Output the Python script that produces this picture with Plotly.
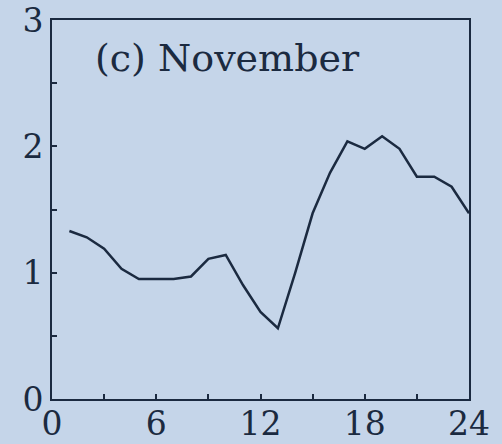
import plotly.graph_objects as go

hours = list(range(1, 25))
values = [1.33, 1.28, 1.19, 1.03, 0.95, 0.95, 0.95, 0.97, 1.11, 1.14, 0.90, 0.69,
          0.56, 1.00, 1.47, 1.79, 2.04, 1.98, 2.08, 1.98, 1.76, 1.76, 1.68, 1.47]
x_ticks = [0, 6, 12, 18, 24]
y_ticks = [0, 1, 2, 3]
panel_label = "(c) November"

bg = "#c5d5e9"
ink = "#1b2a40"
font = "DejaVu Serif"

fig = go.Figure()
fig.add_trace(go.Scatter(x=hours, y=values, mode="lines",
                         line=dict(color=ink, width=2.5), showlegend=False))

fig.add_annotation(x=2.35, y=2.70, xref="x", yref="y", text=panel_label,
                   showarrow=False, xanchor="left", yanchor="middle",
                   font=dict(family=font, size=38, color=ink))

axis_common = dict(showgrid=False, zeroline=False, showline=True, linecolor=ink,
                   linewidth=2, mirror=True, ticks="inside", ticklen=5, tickwidth=1.5,
                   tickcolor=ink, automargin=False,
                   tickfont=dict(family=font, size=33, color=ink))

fig.update_xaxes(range=[0, 24], tickvals=x_ticks, ticktext=[str(v) for v in x_ticks],
                 ticklabelstandoff=-6,
                 minor=dict(ticks="inside", dtick=3, tick0=0, ticklen=5, tickcolor=ink, tickwidth=1.5),
                 **axis_common)
fig.update_yaxes(range=[0, 3], tickvals=y_ticks, ticktext=[str(v) for v in y_ticks],
                 minor=dict(ticks="inside", dtick=0.5, tick0=0, ticklen=5, tickcolor=ink, tickwidth=1.5),
                 **axis_common)

fig.update_layout(width=502, height=444, margin=dict(l=52, r=33, t=20, b=45),
                  paper_bgcolor=bg, plot_bgcolor=bg)

fig.write_html("out.html")
